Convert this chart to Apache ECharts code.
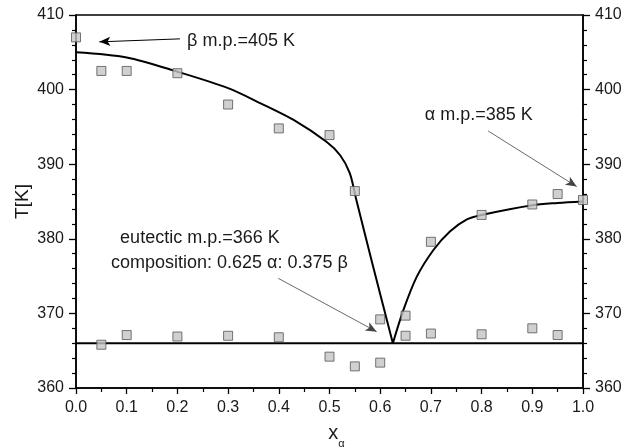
<!DOCTYPE html>
<html>
<head>
<meta charset="utf-8">
<script src="https://cdn.jsdelivr.net/npm/echarts@6/dist/echarts.min.js"></script>
<style>
  html, body { margin: 0; padding: 0; background: #ffffff; }
  #chart { width: 624px; height: 448px; }
</style>
</head>
<body>
<div id="chart"></div>
<script>
// Phase diagram of the α/β binary system (temperature vs. mole fraction of α)

// Axis ticks
const xTicks = [0.0, 0.1, 0.2, 0.3, 0.4, 0.5, 0.6, 0.7, 0.8, 0.9, 1.0];
const tTicks = [360, 370, 380, 390, 400, 410];

// Measured liquidus points
const liquidusX = [0.0, 0.05, 0.1, 0.2, 0.3, 0.4, 0.5, 0.55, 0.7, 0.8, 0.9, 0.95, 1.0];
const liquidusT = [407.0, 402.5, 402.5, 402.2, 398.0, 394.8, 393.9, 386.4, 379.6, 383.2, 384.6, 386.0, 385.2];

// Measured solidus (eutectic) points
const solidusX = [0.05, 0.1, 0.2, 0.3, 0.4, 0.5, 0.55, 0.6, 0.6, 0.65, 0.65, 0.7, 0.8, 0.9, 0.95];
const solidusT = [365.8, 367.1, 366.9, 367.0, 366.8, 364.2, 362.9, 363.4, 369.2, 369.7, 367.0, 367.3, 367.2, 368.0, 367.1];

// Calculated liquidus, β-rich branch (ends at the eutectic)
const betaBranchX = [0.0, 0.1, 0.2, 0.3, 0.363, 0.43, 0.494, 0.521, 0.54, 0.553, 0.586, 0.625];
const betaBranchT = [405.0, 404.3, 402.4, 400.2, 398.2, 395.9, 393.0, 391.2, 388.8, 385.2, 376.3, 366.0];

// Calculated liquidus, α-rich branch (starts at the eutectic)
const alphaBranchX = [0.625, 0.646, 0.672, 0.705, 0.738, 0.771, 0.8, 0.9, 0.95, 1.0];
const alphaBranchT = [366.0, 370.5, 374.9, 378.5, 381.0, 382.6, 383.2, 384.5, 384.8, 385.0];

// Eutectic isotherm
const eutecticX = [0.0, 1.0];
const eutecticT = [366.0, 366.0];

// Annotation texts and where they sit (x fraction, temperature)
const noteTexts = ['β m.p.=405 K', 'α m.p.=385 K', 'eutectic m.p.=366 K', 'composition: 0.625 α: 0.375 β'];
const noteX = [0.219, 0.688, 0.087, 0.069];
const noteT = [406.5, 396.6, 380.1, 376.8];

// Arrows: tail -> head
const arrowFromX = [0.205, 0.813, 0.399];
const arrowFromT = [406.8, 394.45, 374.7];
const arrowToX = [0.046, 0.9876, 0.593];
const arrowToT = [406.4, 387.0, 367.55];

const FONT = 'Liberation Sans, Arial, sans-serif';
const TXT = '#1a1a1a';

const zip = (xs, ys) => xs.map((x, i) => [x, ys[i]]);

const chart = echarts.init(document.getElementById('chart'), null, { renderer: 'canvas' });

const yAxisCommon = {
  type: 'value',
  min: tTicks[0],
  max: tTicks[tTicks.length - 1],
  interval: tTicks[1] - tTicks[0],
  splitLine: { show: false },
  axisLine: { show: true, onZero: false, lineStyle: { color: '#000', width: 1.5 } },
  axisTick: { show: true, inside: false, length: 7, lineStyle: { color: '#000', width: 1.3 } },
  minorTick: { show: true, splitNumber: 5, length: 4, lineStyle: { color: '#000', width: 1.2 } },
  axisLabel: { color: TXT, fontFamily: FONT, fontSize: 16, margin: 12 }
};

const option = {
  backgroundColor: '#ffffff',
  animation: false,
  grid: {
    left: 76, right: 41, top: 15, bottom: 60,
    containLabel: false,
    outerBoundsMode: 'none',
    show: true, borderColor: '#000', borderWidth: 1.5, backgroundColor: 'transparent'
  },
  xAxis: {
    type: 'value',
    min: xTicks[0],
    max: xTicks[xTicks.length - 1],
    interval: 0.1,
    splitLine: { show: false },
    axisLine: { show: true, onZero: false, lineStyle: { color: '#000', width: 1.5 } },
    axisTick: { show: true, inside: false, length: 6, lineStyle: { color: '#000', width: 1.3 } },
    minorTick: { show: true, splitNumber: 2, length: 4, lineStyle: { color: '#000', width: 1.2 } },
    axisLabel: {
      color: TXT, fontFamily: FONT, fontSize: 16, margin: 12,
      formatter: v => v.toFixed(1)
    },
    name: '{x|x}{s|α}',
    nameLocation: 'middle',
    nameGap: 35,
    nameMoveOverlap: false,
    nameTextStyle: {
      padding: [0, 0, 0, 14],
      rich: {
        x: { fontFamily: FONT, fontSize: 20, color: TXT, verticalAlign: 'top', lineHeight: 26 },
        s: { fontFamily: FONT, fontSize: 11, color: TXT, verticalAlign: 'bottom', lineHeight: 11 }
      }
    }
  },
  yAxis: [
    Object.assign({}, yAxisCommon, {
      position: 'left',
      name: 'T[K]',
      nameLocation: 'middle',
      nameRotate: 90,
      nameGap: 44,
      nameMoveOverlap: false,
      nameTextStyle: { fontFamily: FONT, fontSize: 19, color: TXT }
    }),
    Object.assign({}, yAxisCommon, { position: 'right' })
  ],
  series: [
    {
      name: 'eutectic',
      type: 'line',
      data: zip(eutecticX, eutecticT),
      symbol: 'none',
      lineStyle: { color: '#000', width: 2 },
      z: 3,
      markLine: {
        silent: true,
        symbol: ['none', 'arrow'],
        symbolSize: [7, 11],
        label: { show: false },
        emphasis: { disabled: true },
        data: arrowFromX.map((x, i) => [
          {
            coord: [x, arrowFromT[i]],
            lineStyle: { color: i === 0 ? '#000' : '#444', width: i === 0 ? 1 : 0.8, type: 'solid' },
            itemStyle: { color: '#000' }
          },
          { coord: [arrowToX[i], arrowToT[i]] }
        ])
      },
      markPoint: {
        silent: true,
        symbol: 'circle',
        symbolSize: 0,
        label: {
          show: true, position: 'right', distance: 0,
          color: TXT, fontFamily: FONT, fontSize: 18,
          formatter: p => p.name
        },
        data: noteTexts.map((t, i) => ({ name: t, coord: [noteX[i], noteT[i]] }))
      }
    },
    {
      name: 'liquidus β',
      type: 'line',
      data: zip(betaBranchX, betaBranchT),
      symbol: 'none',
      smooth: 0.3,
      lineStyle: { color: '#000', width: 2 },
      z: 3
    },
    {
      name: 'liquidus α',
      type: 'line',
      data: zip(alphaBranchX, alphaBranchT),
      symbol: 'none',
      smooth: 0.3,
      lineStyle: { color: '#000', width: 2 },
      z: 3
    },
    {
      name: 'liquidus data',
      type: 'scatter',
      data: zip(liquidusX, liquidusT),
      symbol: 'rect',
      symbolSize: 9,
      itemStyle: { color: '#c4c4c4', borderColor: '#555', borderWidth: 1 },
      z: 4
    },
    {
      name: 'solidus data',
      type: 'scatter',
      data: zip(solidusX, solidusT),
      symbol: 'rect',
      symbolSize: 9,
      itemStyle: { color: '#c4c4c4', borderColor: '#555', borderWidth: 1 },
      z: 4
    }
  ]
};

chart.setOption(option);
</script>
</body>
</html>
